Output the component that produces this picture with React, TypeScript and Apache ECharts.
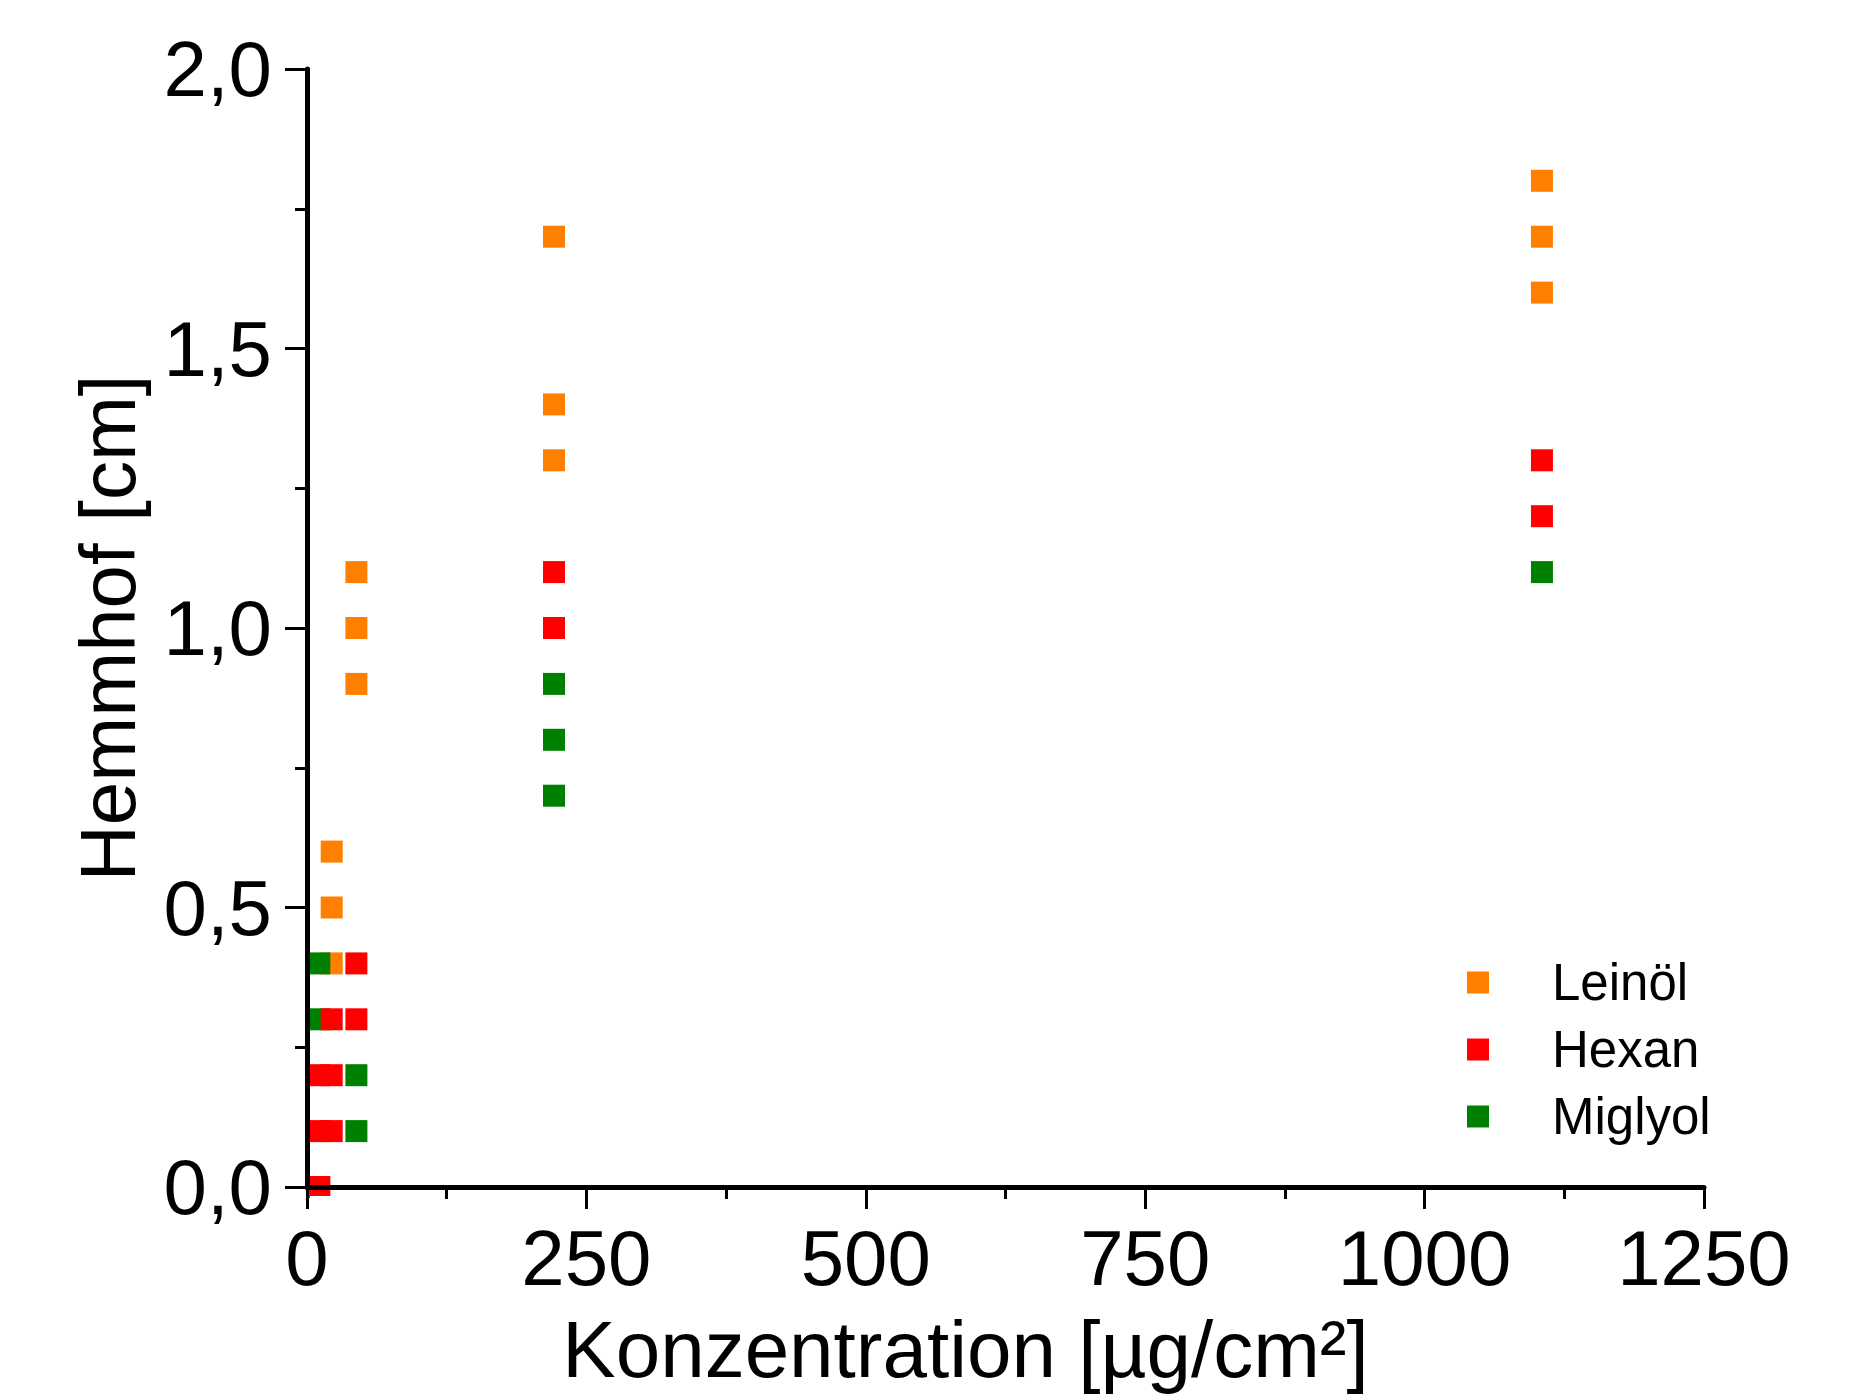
import React, { useEffect, useRef } from "react";
import * as echarts from "echarts";

const seriesNames = ["Leinöl", "Hexan", "Miglyol"];
const seriesColors = ["#FF8000", "#FF0000", "#008000"];

const xLeinol = [22.1, 22.1, 22.1, 44.2, 44.2, 44.2, 221, 221, 221, 1105, 1105, 1105];
const yLeinol = [0.4, 0.5, 0.6, 0.9, 1.0, 1.1, 1.3, 1.4, 1.7, 1.6, 1.7, 1.8];

const xHexan = [11.05, 11.05, 11.05, 22.1, 22.1, 22.1, 44.2, 44.2, 221, 221, 1105, 1105];
const yHexan = [0.0, 0.1, 0.2, 0.1, 0.2, 0.3, 0.3, 0.4, 1.0, 1.1, 1.2, 1.3];

const xMiglyol = [11.05, 11.05, 44.2, 44.2, 221, 221, 221, 1105];
const yMiglyol = [0.3, 0.4, 0.1, 0.2, 0.7, 0.8, 0.9, 1.1];

const xAxisTitle = "Konzentration [µg/cm²]";
const yAxisTitle = "Hemmhof [cm]";

const FONT = "'Liberation Sans', Arial, Helvetica, sans-serif";

const zip = (xs: number[], ys: number[]) => xs.map((x, i) => [x, ys[i]]);

export default function App() {
  const ref = useRef<HTMLDivElement>(null);

  useEffect(() => {
    document.body.style.margin = "0";
    if (!ref.current) return;
    const chart = echarts.init(ref.current, undefined, { renderer: "svg" });

    const gridLeft = 307;
    const gridRight = 153;
    const gridTop = 69;
    const gridBottom = 201;
    const W = 1857;
    const H = 1394;

    const axisCommon = {
      z: 10,
      axisLine: { show: true, lineStyle: { color: "#000", width: 5 } },
      axisTick: { show: true, inside: false, length: 22, lineStyle: { color: "#000", width: 3 } },
      minorTick: { show: true, splitNumber: 2, length: 12, lineStyle: { color: "#000", width: 3 } },
      splitLine: { show: false },
      minorSplitLine: { show: false },
    };

    const dataSets = [zip(xLeinol, yLeinol), zip(xHexan, yHexan), zip(xMiglyol, yMiglyol)];
    const zs = [2, 4, 3];

    chart.setOption({
      animation: false,
      backgroundColor: "#fff",
      textStyle: { fontFamily: FONT },
      grid: { left: gridLeft, right: gridRight, top: gridTop, bottom: gridBottom },
      xAxis: {
        type: "value",
        min: 0,
        max: 1250,
        interval: 250,
        ...axisCommon,
        axisLabel: {
          color: "#000",
          fontSize: 78,
          fontFamily: FONT,
          margin: 32,
          formatter: (v: number) => String(v),
        },
        name: xAxisTitle,
        nameLocation: "middle",
        nameGap: 122,
        nameTextStyle: { color: "#000", fontSize: 80, fontFamily: FONT, padding: [0, 80, 0, 0] },
      },
      yAxis: {
        type: "value",
        min: 0,
        max: 2,
        interval: 0.5,
        ...axisCommon,
        axisLabel: {
          color: "#000",
          fontSize: 78,
          fontFamily: FONT,
          margin: 35,
          formatter: (v: number) => v.toFixed(1).replace(".", ","),
        },
        name: yAxisTitle,
        nameLocation: "middle",
        nameGap: 160,
        nameTextStyle: { color: "#000", fontSize: 78, fontFamily: FONT },
      },
      legend: {
        orient: "vertical",
        left: 1462,
        top: 952,
        itemWidth: 22,
        itemHeight: 22,
        itemGap: 16,
        icon: "rect",
        data: seriesNames,
        textStyle: { color: "#000", fontSize: 51, lineHeight: 50, fontFamily: FONT, padding: [0, 0, 0, 58] },
      },
      graphic: [
        {
          type: "rect",
          z: 6,
          silent: true,
          shape: { x: gridLeft + 3, y: H - gridBottom + 3, width: W - gridLeft - gridRight, height: 30 },
          style: { fill: "#fff" },
        },
      ],
      series: seriesNames.map((name, i) => ({
        name,
        type: "scatter",
        z: zs[i],
        symbol: "rect",
        symbolSize: 22,
        itemStyle: { color: seriesColors[i], opacity: 1 },
        data: dataSets[i],
      })),
    });

    return () => chart.dispose();
  }, []);

  return <div ref={ref} style={{ width: 1857, height: 1394 }} />;
}
